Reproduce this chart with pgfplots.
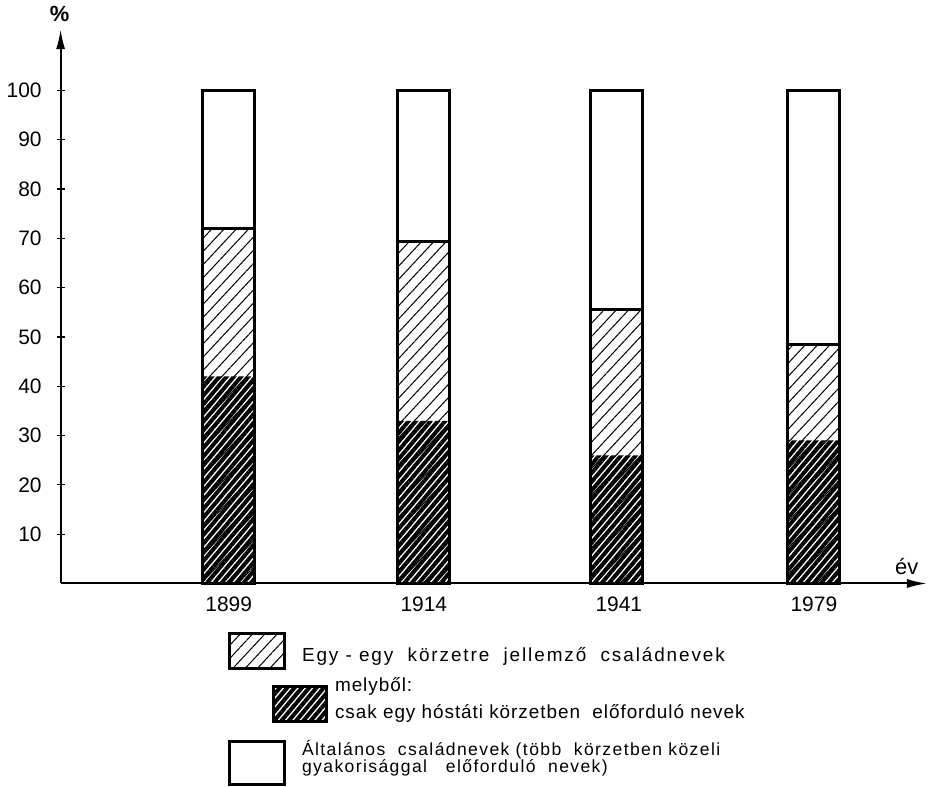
\documentclass[border=0pt]{standalone}
\usepackage{fontspec}
\setmainfont{Liberation Sans}
\usepackage{pgfplots}
\pgfplotsset{compat=1.18}
\usetikzlibrary{patterns.meta,arrows.meta}
\newfontfamily\legfont[LetterSpace=10]{Liberation Sans}
\newfontfamily\legfontc[LetterSpace=5]{Liberation Sans}
\newfontfamily\legfontb[LetterSpace=8]{Liberation Sans}

\tikzset{
  lighthatch/.style={pattern={Lines[angle=47,distance=4.5bp,line width=0.5bp]}, pattern color=black},
  darkhatch/.style={pattern={Lines[angle=50,distance=2.8bp,line width=2bp]}, pattern color=black},
}

\begin{document}
\begin{tikzpicture}
\begin{axis}[
  at={(0,0)}, anchor=south west,
  scale only axis,
  x=97.5bp, y=2.465bp,
  xmin=0.138, xmax=4.58, ymin=0, ymax=112.4,
  axis x line=bottom, axis y line=left,
  axis line style={line width=1bp, -{Latex[length=10bp,width=4.5bp]}},
  xtick={1,2,3,4}, xticklabels={1899,1914,1941,1979},
  ytick={10,20,...,100},
  xtick style={draw=none},
  ytick style={line width=0.6bp, black},
  tick align=center, major tick length=4bp,
  tick label style={font=\fontsize{10.5}{12}\selectfont},
  /pgf/number format/assume math mode=true,
  yticklabel style={xshift=-4bp},
  xticklabel style={yshift=-1bp},
  clip=false,
]
% white (Általános) part: full bar 100
\addplot[ybar, bar width=0.267, bar shift=0pt, fill=white, draw=black, line width=1.5bp]
  coordinates {(1,100) (2,100) (2.99,100) (4,100)};
% region-specific names (light hatch): total share
\addplot[ybar, bar width=0.267, bar shift=0pt, lighthatch, draw=black, line width=1.5bp]
  coordinates {(1,72) (2,69.4) (2.99,55.6) (4,48.5)};
% of which: only in one Hóstát district (dark hatch)
\addplot[ybar, bar width=0.267, bar shift=0pt, darkhatch, draw=none]
  coordinates {(1,42) (2,33) (2.99,26) (4,29)};
% outline
\addplot[ybar, bar width=0.267, bar shift=0pt, fill=none, draw=black, line width=1.5bp]
  coordinates {(1,100) (2,100) (2.99,100) (4,100)};
\end{axis}

% axis captions
\node[font=\bfseries\fontsize{11}{12}\selectfont] at (-0.5bp,284.5bp) {\%};
\node[font=\fontsize{11}{12}\selectfont] at (423bp,8.5bp) {év};

% legend
\draw[line width=1.5bp, lighthatch] (84.5bp,-25bp) rectangle (112bp,-42.5bp);
\node[anchor=west, font=\legfont\fontsize{9.5}{11}\selectfont, inner sep=0pt] at (120.5bp,-36.5bp)
  {Egy - egy\ \ körzetre\ \ jellemző\ \ családnevek};

\draw[line width=1.5bp, darkhatch] (106.5bp,-51.5bp) rectangle (133bp,-69bp);
\node[anchor=west, font=\legfontc\fontsize{9.5}{11}\selectfont, inner sep=0pt] at (137bp,-51.5bp)
  {melyből:};
\node[anchor=west, font=\legfontc\fontsize{9.5}{11}\selectfont, inner sep=0pt] at (137bp,-65bp)
  {csak egy hóstáti körzetben\ \ előforduló nevek};

\draw[line width=1.5bp, fill=white] (84.5bp,-79bp) rectangle (112bp,-100.5bp);
\node[anchor=west, font=\legfontb\fontsize{8.8}{10}\selectfont, inner sep=0pt] at (120.5bp,-83bp)
  {Általános\ \ családnevek (több\ \ körzetben közeli};
\node[anchor=west, font=\legfontb\fontsize{8.8}{10}\selectfont, inner sep=0pt] at (120.5bp,-92bp)
  {gyakorisággal\ \ \ előforduló\ \ nevek)};
\end{tikzpicture}
\end{document}
